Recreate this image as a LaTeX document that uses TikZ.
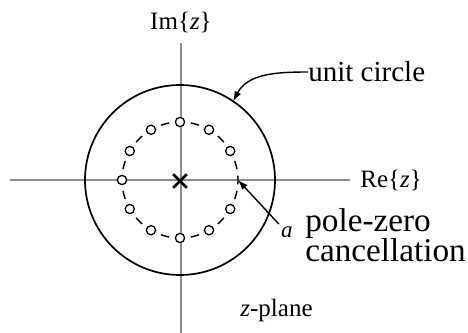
\documentclass[tikz,border=0pt]{standalone}
\usepackage{fontspec}
\setmainfont{Liberation Serif}
\usetikzlibrary{arrows.meta,shapes.misc}

\begin{document}
\begin{tikzpicture}[x=0.5pt,y=0.5pt,
    axis/.style={line width=1pt, draw=black!45},
    ucirc/.style={line width=0.85pt},
    zcirc/.style={line width=0.7pt, dash pattern=on 4.3pt off 3.29pt, dash phase=2.15pt},
    zero/.style={draw, circle, fill=white, minimum size=4.6pt, inner sep=0pt, line width=0.65pt},
    pole/.style={draw, cross out, minimum size=5.5pt, inner sep=0pt, line width=1.35pt},
    ptr/.style={line width=0.7pt, -{Latex[length=5pt,width=3.6pt]}},
    lbl/.style={font=\fontsize{12.5}{14}\selectfont, inner sep=0pt}
]
\useasboundingbox (-180,-153) rectangle (288,180);

% axes and their labels
\node[lbl] (im) at (1,158) {Im\{\textit{z}\}};
\node[lbl, anchor=west] (re) at (180,0) {Re\{\textit{z}\}};
\coordinate (ytop) at (1,137);
\coordinate (ybot) at (1,-153);
\coordinate (xleft) at (-170,0);
\coordinate (xright) at (170,0);
\draw[axis] (ybot) -- (ytop);
\draw[axis] (xleft) -- (xright);

% unit circle and zeros on the dashed circle
\draw[ucirc] (0,0) circle (95);
\draw[zcirc] (0,0) circle (58);
\foreach \a in {30,60,...,330} {
  \node[zero] (z\a) at (\a:58) {};
}
\node[pole] (p) at (0,-1) {};

% annotations
\coordinate (uc) at (56:95);
\coordinate (c0) at (0:58);
\node[font=\fontsize{14.5}{16}\selectfont, anchor=west, inner sep=0pt] (unit) at (128,108) {unit circle};
\draw[ptr] (unit.west) to[out=180, in=62] (uc);
\node[font=\fontsize{11.5}{12}\selectfont\itshape, inner sep=1pt] (a) at (107,-52) {a};
\draw[ptr] (a.north west) -- (c0);
\node[font=\fontsize{16.6}{15.2}\selectfont, anchor=west, align=left, inner sep=0pt] (pz) at (125,-55) {pole-zero\\cancellation};
\node[lbl, anchor=west] (zp) at (60,-130) {\textit{z}-plane};
\end{tikzpicture}
\end{document}
